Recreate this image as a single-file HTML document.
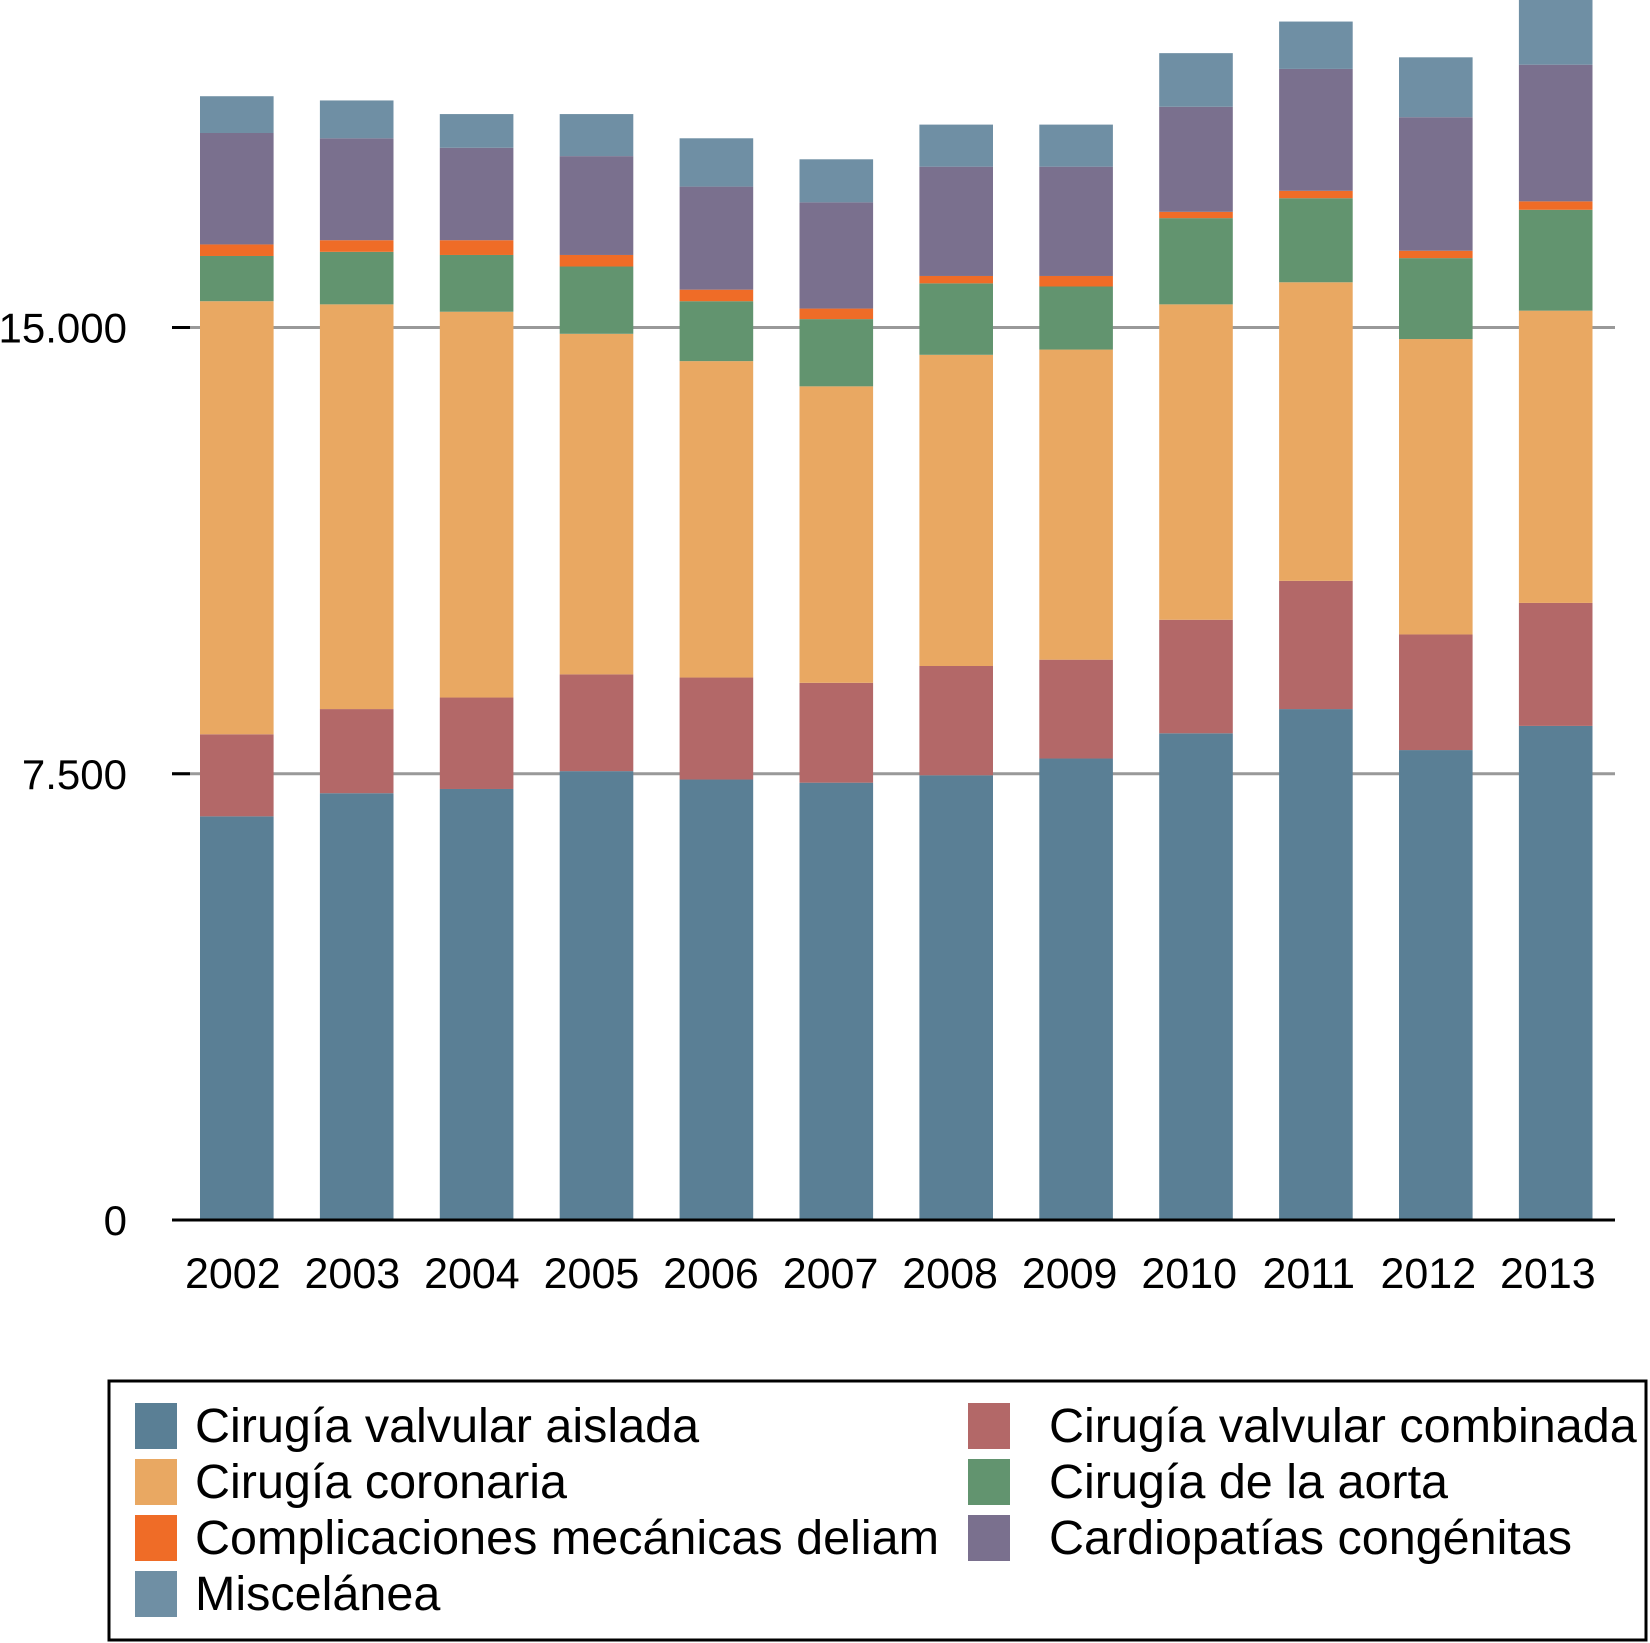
<!DOCTYPE html>
<html><head><meta charset="utf-8"><style>
html,body{margin:0;padding:0;background:#fff;}
svg{display:block;font-family:"Liberation Sans",Arial,sans-serif;}
</style></head><body>
<svg id="chart" width="1650" height="1643" viewBox="0 0 1650 1643" xmlns="http://www.w3.org/2000/svg">
<g id="grid"></g><g id="bars"></g><g id="axes"></g>
<g id="legend"></g>
</svg>
<script>
const years = ["2002","2003","2004","2005","2006","2007","2008","2009","2010","2011","2012","2013"];
const seriesNames = ["Cirugía valvular aislada","Cirugía valvular combinada","Cirugía coronaria","Cirugía de la aorta","Complicaciones mecánicas deliam","Cardiopatías congénitas","Miscelánea"];
const valvularAislada = [6784,7173,7244,7544,7403,7350,7474,7756,8180,8587,7898,8304];
const valvularCombinada = [1379,1414,1537,1626,1714,1678,1837,1661,1908,2155,1943,2067];
const coronaria = [7279,6802,6484,5724,5318,4983,5230,5212,5301,5018,4965,4912];
const aorta = [760,883,954,1131,1007,1130,1201,1060,1449,1413,1360,1696];
const complicaciones = [194,195,248,194,194,177,124,177,106,124,124,141];
const congenitas = [1873,1713,1554,1661,1732,1785,1837,1837,1766,2049,2244,2297];
const miscelanea = [618,636,566,707,812,724,707,707,901,796,1007,1166];
const yTicks = [0,7500,15000];
const yTickLabels = ["0","7.500","15.000"];

const colors = ["#5a7f95","#b36868","#e9a862","#62946f","#ef6c27","#7a708e","#6f8fa4"];
const series = [valvularAislada,valvularCombinada,coronaria,aorta,complicaciones,congenitas,miscelanea];
const NS="http://www.w3.org/2000/svg";
const base=1220, top15=327.5;
function y(v){return base-v*(base-top15)/15000;}
function xb(i){return 200+i*119.9;}
const bw=73.6;
function mk(tag,attrs,parent){const e=document.createElementNS(NS,tag);for(const k in attrs)e.setAttribute(k,attrs[k]);parent.appendChild(e);return e;}
const grid=document.getElementById('grid'),bars=document.getElementById('bars'),axes=document.getElementById('axes'),legend=document.getElementById('legend');
yTicks.forEach((t,i)=>{
  if(t>0){const g=mk('line',{x1:172,x2:1615,y1:y(t),y2:y(t),stroke:'#999',"stroke-width":3},grid);
    
    
    const tk=mk('line',{x1:172,x2:190,y1:y(t),y2:y(t),stroke:'#000',"stroke-width":3},axes);
    
    }
  const tx=mk('text',{x:127,y:y(t)+15,"text-anchor":"end","font-size":42,fill:'#000'},axes);
  tx.textContent=yTickLabels[i];
  
  
});
years.forEach((yr,i)=>{
  let cum=0;
  series.forEach((s,k)=>{
    const y0=y(cum),y1=y(cum+s[i]);cum+=s[i];
    const r=mk('rect',{x:xb(i),y:Math.max(y1,-5),width:bw,height:y0-Math.max(y1,-5),fill:colors[k]},bars);
    
    
  });
  const t=mk('text',{x:xb(i)+bw/2-4-i*0.35,y:1288,"text-anchor":"middle","font-size":43,fill:'#000'},axes);
  t.textContent=yr;
  
  
});
const ax=mk('line',{x1:172,x2:1615,y1:base,y2:base,stroke:'#000',"stroke-width":3},axes);


const box=mk('rect',{x:109,y:1381,width:1537,height:259,fill:'none',stroke:'#000',"stroke-width":3},legend);


const legOrder=[[0,0,0],[2,0,1],[4,0,2],[6,0,3],[1,1,0],[3,1,1],[5,1,2]];
legOrder.forEach(([k,col,row])=>{
  const sx=col?968:135, ty=1403+row*56;
  const sw=mk('rect',{x:sx,y:ty,width:42,height:46,fill:colors[k]},legend);
  
  
  const t=mk('text',{x:col?1049:195,y:ty+39,"font-size":48.5,fill:'#000'},legend);
  t.textContent=seriesNames[k];
  
  
});
</script>
</body></html>
